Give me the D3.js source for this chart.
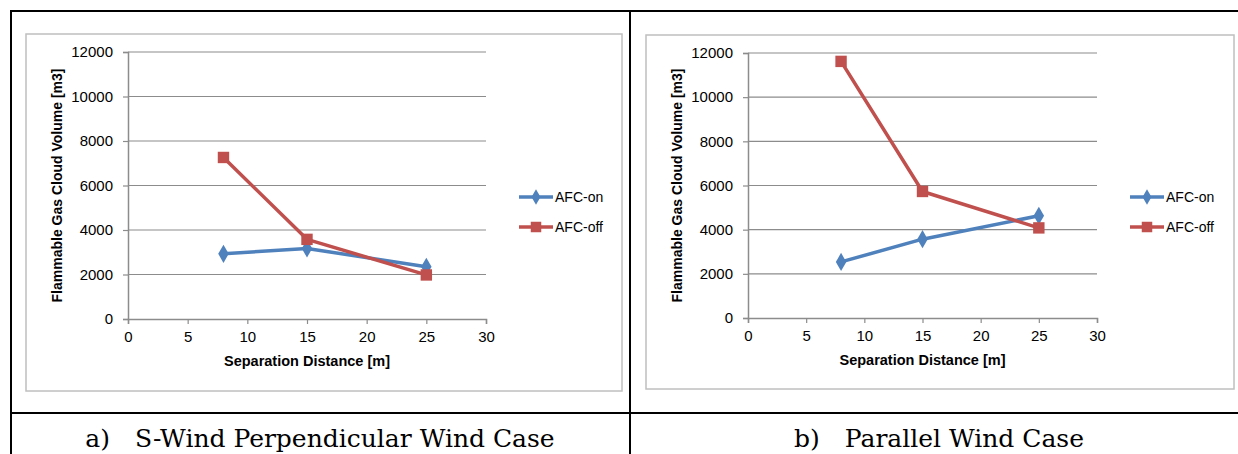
<!DOCTYPE html>
<html>
<head>
<meta charset="utf-8">
<script src="https://cdn.jsdelivr.net/npm/d3@7"></script>
<style>
  body { margin: 0; background: #fff; }
  svg { display: block; }
</style>
</head>
<body>
<svg id="fig" width="1238" height="454"></svg>
<script>
// separation distances [m]
const distances = [8, 15, 25];
const seriesNames = ['AFC-on', 'AFC-off'];

// a) S-Wind perpendicular wind case
const perpAfcOn = [2930, 3170, 2350];
const perpAfcOff = [7260, 3580, 1980];

// b) parallel wind case
const paraAfcOn = [2540, 3570, 4630];
const paraAfcOff = [11620, 5730, 4080];

const xTicks = [0, 5, 10, 15, 20, 25, 30];
const yTicks = [0, 2000, 4000, 6000, 8000, 10000, 12000];
const captions = ['a)\u2003S-Wind Perpendicular Wind Case', 'b)\u2003Parallel Wind Case'];

const colors = { 'AFC-on': '#4f81bd', 'AFC-off': '#c0504d' };
const svg = d3.select('#fig');

// outer table lines
const table = svg.append('g').attr('stroke', '#000').attr('stroke-width', 2);
table.append('line').attr('x1', 10).attr('x2', 1238).attr('y1', 11).attr('y2', 11);
table.append('line').attr('x1', 10).attr('x2', 1238).attr('y1', 413).attr('y2', 413);
table.append('line').attr('x1', 11).attr('x2', 11).attr('y1', 10).attr('y2', 454);
table.append('line').attr('x1', 630).attr('x2', 630).attr('y1', 10).attr('y2', 454);

const drawPanel = (opts) => {
  const g = svg.append('g');
  const { frame, plot, on, off, legendX, caption, captionX } = opts;

  g.append('rect')
    .attr('x', frame[0]).attr('y', frame[1])
    .attr('width', frame[2] - frame[0]).attr('height', frame[3] - frame[1])
    .attr('fill', '#fff').attr('stroke', '#bfbfbf').attr('stroke-width', 1.5);

  const x = d3.scaleLinear().domain([0, 30]).range([plot.left, plot.right]);
  const y = d3.scaleLinear().domain([0, 12000]).range([plot.bottom, plot.top]);

  // gridlines
  g.append('g').selectAll('line').data(yTicks.slice(1)).join('line')
    .attr('x1', plot.left).attr('x2', plot.right)
    .attr('y1', d => y(d)).attr('y2', d => y(d))
    .attr('stroke', '#8c8c8c').attr('stroke-width', 1.2);

  const yAxis = g.append('g').attr('transform', `translate(${plot.left},0)`)
    .call(d3.axisLeft(y).tickValues(yTicks).tickSize(5).tickPadding(10).tickFormat(d3.format('d')));
  const xAxis = g.append('g').attr('transform', `translate(0,${plot.bottom})`)
    .call(d3.axisBottom(x).tickValues(xTicks).tickSize(5).tickPadding(7));
  [xAxis, yAxis].forEach(a => {
    a.select('.domain').attr('stroke', '#8c8c8c').attr('stroke-width', 1.5);
    a.selectAll('.tick line').attr('stroke', '#8c8c8c').attr('stroke-width', 1.2);
    a.selectAll('text').attr('font-family', 'Liberation Sans, Arial, sans-serif')
      .style('font-size', '15px').attr('fill', '#000');
  });

  g.append('text')
    .attr('transform', `translate(${plot.left - 71},${(plot.top + plot.bottom) / 2}) rotate(-90)`)
    .attr('text-anchor', 'middle').attr('dy', '0.35em')
    .attr('font-family', 'Liberation Sans, Arial, sans-serif').attr('font-weight', 'bold')
    .style('font-size', '14px')
    .text('Flammable Gas Cloud Volume [m3]');

  g.append('text')
    .attr('x', (plot.left + plot.right) / 2).attr('y', plot.bottom + 47)
    .attr('text-anchor', 'middle')
    .attr('font-family', 'Liberation Sans, Arial, sans-serif').attr('font-weight', 'bold')
    .style('font-size', '14.5px')
    .text('Separation Distance [m]');

  const line = d3.line().x(d => x(d[0])).y(d => y(d[1]));
  const series = [
    { name: 'AFC-on', pts: distances.map((d, i) => [d, on[i]]) },
    { name: 'AFC-off', pts: distances.map((d, i) => [d, off[i]]) }
  ];

  series.forEach(s => {
    g.append('path').datum(s.pts).attr('d', line)
      .attr('fill', 'none').attr('stroke', colors[s.name]).attr('stroke-width', 3.5)
      .attr('stroke-linejoin', 'round');
  });
  series.forEach(s => {
    g.append('g').selectAll('path').data(s.pts).join('path')
      .attr('transform', d => `translate(${x(d[0])},${y(d[1])})`)
      .attr('d', d3.symbol().type(s.name === 'AFC-on' ? d3.symbolDiamond : d3.symbolSquare)
        .size(s.name === 'AFC-on' ? 95 : 130))
      .attr('fill', colors[s.name]);
  });

  // legend
  const leg = g.append('g');
  seriesNames.forEach((name, i) => {
    const ly = 197 + i * 30;
    leg.append('line').attr('x1', legendX).attr('x2', legendX + 34)
      .attr('y1', ly).attr('y2', ly)
      .attr('stroke', colors[name]).attr('stroke-width', 3.5);
    leg.append('path')
      .attr('transform', `translate(${legendX + 17},${ly})`)
      .attr('d', d3.symbol().type(name === 'AFC-on' ? d3.symbolDiamond : d3.symbolSquare)
        .size(name === 'AFC-on' ? 70 : 110))
      .attr('fill', colors[name]);
    leg.append('text').attr('x', legendX + 36).attr('y', ly).attr('dy', '0.35em')
      .attr('font-family', 'Liberation Sans, Arial, sans-serif').style('font-size', '14px')
      .text(name);
  });

  g.append('text')
    .attr('x', captionX).attr('y', 447)
    .attr('text-anchor', 'middle')
    .attr('font-family', 'DejaVu Serif, serif').style('font-size', '25px')
    .text(caption);
};

drawPanel({
  frame: [26, 34, 622, 391],
  plot: { left: 128, right: 486, top: 52, bottom: 319 },
  on: perpAfcOn, off: perpAfcOff,
  legendX: 519,
  caption: captions[0], captionX: 320
});

drawPanel({
  frame: [646, 35, 1234, 389],
  plot: { left: 748, right: 1097, top: 53, bottom: 318 },
  on: paraAfcOn, off: paraAfcOff,
  legendX: 1130,
  caption: captions[1], captionX: 939
});
</script>
</body>
</html>
